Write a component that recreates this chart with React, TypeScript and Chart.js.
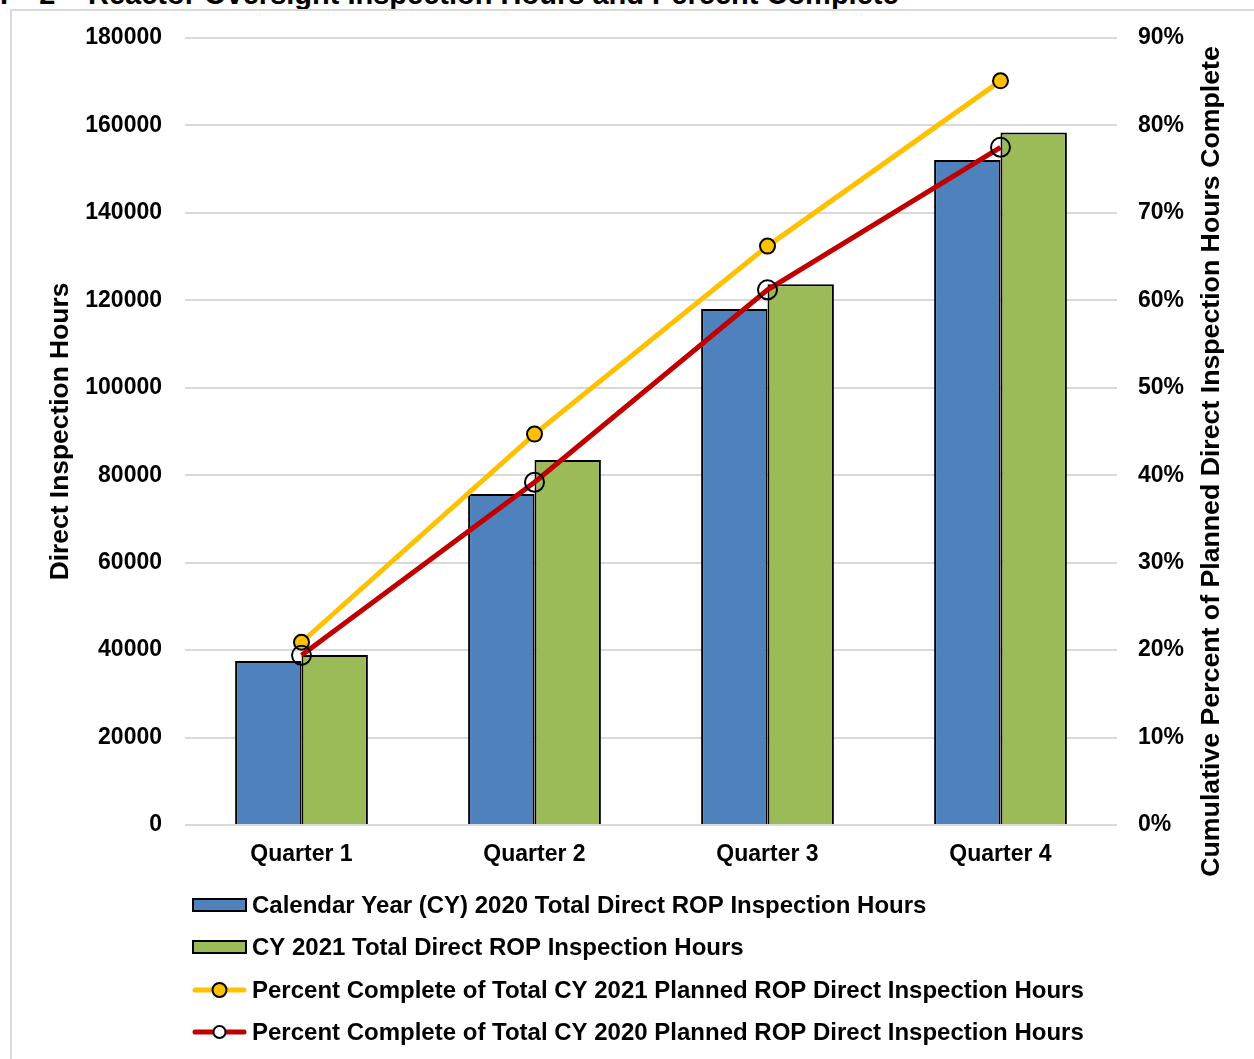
import React, { useEffect, useRef } from 'react';
import { Chart, registerables } from 'chart.js';

Chart.register(...registerables);

const FONT = "'Liberation Sans', Arial, Helvetica, sans-serif";

const categories = ['Quarter 1', 'Quarter 2', 'Quarter 3', 'Quarter 4'];
const hours2020 = [37500, 75700, 118000, 152100];
const hours2021 = [38900, 83500, 123700, 158400];
const pct2021 = [0.209, 0.447, 0.662, 0.851];
const pct2020 = [0.194, 0.392, 0.612, 0.775];

const leftMax = 180000;
const leftStep = 20000;
const rightMax = 0.9;
const rightStep = 0.1;

const labelHours2020 = 'Calendar Year (CY) 2020 Total Direct ROP Inspection Hours';
const labelHours2021 = 'CY 2021 Total Direct ROP Inspection Hours';
const labelPct2021 = 'Percent Complete of Total CY 2021 Planned ROP Direct Inspection Hours';
const labelPct2020 = 'Percent Complete of Total CY 2020 Planned ROP Direct Inspection Hours';

const leftTitle = 'Direct Inspection Hours';
const rightTitle = 'Cumulative Percent of Planned Direct Inspection Hours Complete';
const chartTitlePrefix = 'F-2';
const chartTitle = 'Reactor Oversight Inspection Hours and Percent Complete';

const BLUE = '#4F81BD';
const GREEN = '#9BBB59';
const YELLOW = '#FFC000';
const RED = '#C00000';
const GRID = '#d9d9d9';

export default function App() {
  const ref = useRef<HTMLCanvasElement | null>(null);

  useEffect(() => {
    if (!ref.current) return;

    const legendPlugin = {
      id: 'customLegend',
      afterDraw(chart: any) {
        const ctx = chart.ctx;
        const ca = chart.chartArea;
        const x0 = ca.left + 8;
        const boxW = 53;
        const rows = [80, 122, 165, 207];
        ctx.save();
        chart.data.datasets.forEach((ds: any, i: number) => {
          const y = ca.bottom + rows[i];
          if (ds.type === 'bar') {
            ctx.fillStyle = ds.backgroundColor;
            ctx.fillRect(x0, y - 6, boxW, 12);
            ctx.strokeStyle = '#000';
            ctx.lineWidth = 2;
            ctx.strokeRect(x0, y - 6, boxW, 12);
          } else {
            ctx.strokeStyle = ds.borderColor;
            ctx.lineWidth = 5;
            ctx.lineCap = 'round';
            ctx.beginPath();
            ctx.moveTo(x0 + 2, y);
            ctx.lineTo(x0 + boxW - 2, y);
            ctx.stroke();
            ctx.beginPath();
            ctx.arc(x0 + boxW / 2, y, ds.legendRadius, 0, Math.PI * 2);
            ctx.fillStyle = ds.legendFill;
            ctx.fill();
            ctx.lineWidth = 2;
            ctx.strokeStyle = '#000';
            ctx.stroke();
          }
          ctx.font = `bold 24px ${FONT}`;
          ctx.textBaseline = 'middle';
          ctx.textAlign = 'left';
          ctx.fillStyle = '#000';
          ctx.fillText(ds.label, x0 + boxW + 6, y + 1);
        });
        ctx.restore();
      },
    };

    const rightTitlePlugin = {
      id: 'rightTitle',
      afterDraw(chart: any) {
        const ctx = chart.ctx;
        const ca = chart.chartArea;
        ctx.save();
        ctx.translate(ca.right + 95, (ca.top + ca.bottom) / 2 + 30);
        ctx.rotate(-Math.PI / 2);
        ctx.font = `bold 26.7px ${FONT}`;
        ctx.textAlign = 'center';
        ctx.textBaseline = 'middle';
        ctx.fillStyle = '#000';
        ctx.fillText(rightTitle, 0, 0);
        ctx.restore();
      },
    };

    const chart = new Chart(ref.current, {
      type: 'bar',
      data: {
        labels: categories,
        datasets: [
          {
            type: 'bar',
            label: labelHours2020,
            data: hours2020,
            backgroundColor: BLUE,
            borderColor: '#000',
            borderWidth: 2,
            yAxisID: 'y',
            order: 3,
            categoryPercentage: 0.57,
            barPercentage: 1.0,
          } as any,
          {
            type: 'bar',
            label: labelHours2021,
            data: hours2021,
            backgroundColor: GREEN,
            borderColor: '#000',
            borderWidth: 2,
            yAxisID: 'y',
            order: 3,
            categoryPercentage: 0.57,
            barPercentage: 1.0,
          } as any,
          {
            type: 'line',
            label: labelPct2021,
            data: pct2021,
            borderColor: YELLOW,
            borderWidth: 5,
            backgroundColor: YELLOW,
            pointBackgroundColor: YELLOW,
            pointBorderColor: '#000',
            pointBorderWidth: 2,
            pointRadius: 7.5,
            tension: 0,
            yAxisID: 'y1',
            order: 2,
            legendRadius: 7,
            legendFill: YELLOW,
          } as any,
          {
            type: 'line',
            label: labelPct2020,
            data: pct2020,
            borderColor: RED,
            borderWidth: 5,
            backgroundColor: RED,
            pointBackgroundColor: 'rgba(0,0,0,0)',
            pointBorderColor: '#000',
            pointBorderWidth: 2,
            pointRadius: 9.5,
            tension: 0,
            yAxisID: 'y1',
            order: 1,
            legendRadius: 6,
            legendFill: '#fff',
          } as any,
        ],
      },
      options: {
        animation: false,
        responsive: false,
        maintainAspectRatio: false,
        layout: { padding: { top: 27, left: 0, right: 0, bottom: 0 } },
        plugins: {
          legend: { display: false },
          tooltip: { enabled: false },
          title: { display: false },
        },
        scales: {
          x: {
            offset: true,
            grid: { display: false },
            border: { display: false },
            ticks: {
              color: '#000',
              padding: 8,
              font: { family: FONT, size: 23, weight: 'bold' },
            },
            afterFit: (s: any) => {
              s.height = 234;
            },
          },
          y: {
            position: 'left',
            min: 0,
            max: leftMax,
            grid: { color: GRID, lineWidth: 2, drawTicks: false },
            border: { display: false },
            ticks: {
              stepSize: leftStep,
              color: '#000',
              padding: 23,
              font: { family: FONT, size: 23, weight: 'bold' },
              callback: (v: any) => String(v),
            },
            title: {
              display: true,
              text: leftTitle,
              color: '#000',
              font: { family: FONT, size: 26.4, weight: 'bold' },
              padding: { top: 33, bottom: 0 },
            },
            afterFit: (s: any) => {
              s.width = 173;
              s.paddingTop = 0;
              s.paddingBottom = 0;
            },
          },
          y1: {
            position: 'right',
            min: 0,
            max: rightMax,
            grid: { display: false, drawTicks: false },
            border: { display: false },
            ticks: {
              stepSize: rightStep,
              color: '#000',
              padding: 21,
              font: { family: FONT, size: 23, weight: 'bold' },
              callback: (v: any) => Math.round(Number(v) * 100) + '%',
            },
            afterFit: (s: any) => {
              s.width = 137;
              s.paddingTop = 0;
              s.paddingBottom = 0;
            },
          },
        },
      } as any,
      plugins: [legendPlugin, rightTitlePlugin],
    });

    return () => chart.destroy();
  }, []);

  return (
    <div
      style={{
        position: 'absolute',
        left: 0,
        top: 0,
        width: 1254,
        height: 1059,
        overflow: 'hidden',
        background: '#fff',
      }}
    >
      <div
        style={{
          position: 'absolute',
          left: 0,
          top: -20,
          font: `bold 29px/29px ${FONT}`,
          color: '#000',
          whiteSpace: 'nowrap',
          letterSpacing: 6,
        }}
      >
        {chartTitlePrefix}
      </div>
      <div
        style={{
          position: 'absolute',
          left: 88,
          top: -20,
          font: `bold 29px/29px ${FONT}`,
          color: '#000',
          whiteSpace: 'nowrap',
        }}
      >
        {chartTitle}
      </div>
      <div
        style={{
          position: 'absolute',
          left: 10,
          top: 9,
          width: 1300,
          height: 1100,
          border: `2px solid ${GRID}`,
          boxSizing: 'border-box',
        }}
      />
      <canvas
        ref={ref}
        width={1242}
        height={1048}
        style={{ position: 'absolute', left: 12, top: 11, width: 1242, height: 1048 }}
      />
    </div>
  );
}
